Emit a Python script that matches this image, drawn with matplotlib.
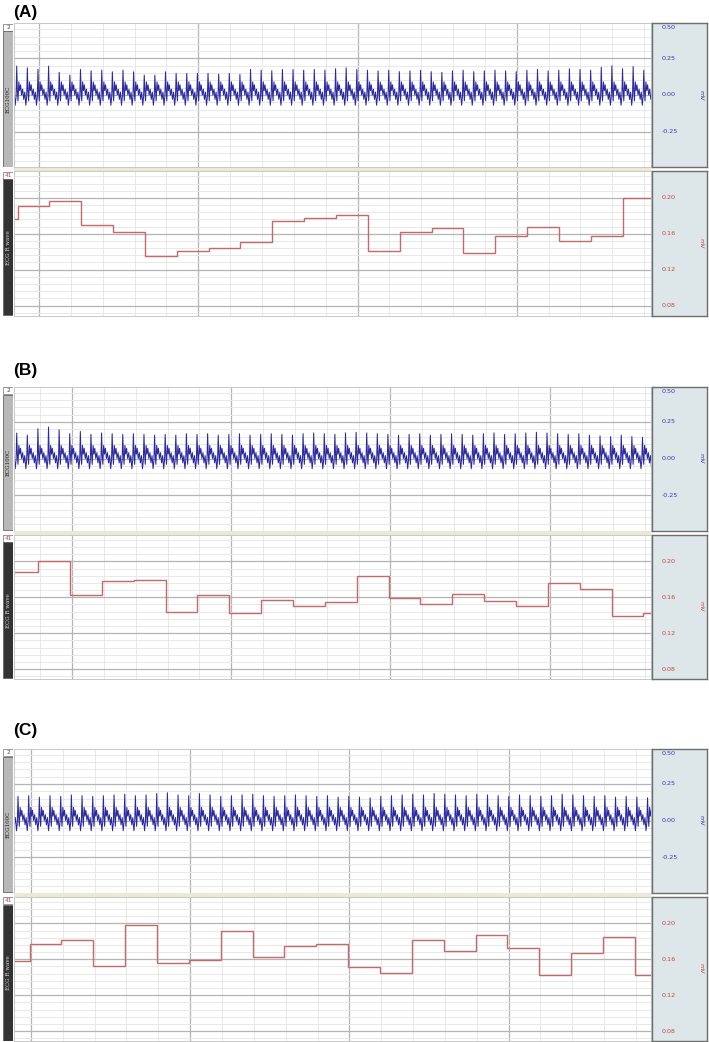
import numpy as np
import matplotlib
matplotlib.use('Agg')
import matplotlib.pyplot as plt
from matplotlib.patches import Rectangle

W, H = 709, 1042

# ---------------- data ----------------
panel_labels = ['(A)', '(B)', '(C)']
ecg_channel_label = 'ECG100C'
rwave_channel_label = 'ECG R wave'
ecg_channel_no = '2'
rwave_channel_no = '41'
ecg_ticks = [0.50, 0.25, 0.00, -0.25]
ecg_tick_labels = ['0.50', '0.25', '0.00', '-0.25']
rwave_ticks = [0.20, 0.16, 0.12, 0.08]
rwave_tick_labels = ['0.20', '0.16', '0.12', '0.08']
unit_label = 'mV'

# R-wave amplitude (mV) per analysis window (stairs)
rwave_a = [0.177, 0.191, 0.197, 0.170, 0.162, 0.135, 0.141, 0.144, 0.151, 0.174, 0.178,
           0.181, 0.141, 0.162, 0.167, 0.139, 0.158, 0.168, 0.152, 0.157, 0.200]
rwave_b = [0.188, 0.201, 0.162, 0.178, 0.179, 0.144, 0.162, 0.143, 0.157, 0.150, 0.155,
           0.184, 0.159, 0.152, 0.164, 0.156, 0.150, 0.176, 0.169, 0.139, 0.142]
rwave_c = [0.158, 0.177, 0.182, 0.152, 0.198, 0.156, 0.159, 0.191, 0.162, 0.175, 0.177,
           0.151, 0.145, 0.181, 0.169, 0.187, 0.173, 0.143, 0.167, 0.185, 0.142]
rwave_first_edge = [0.11, 0.76, 0.49]   # time of first window boundary
window_len = 1.0

# ECG: R-peak amplitude (mV) of each beat
ecg_r_a = [0.198, 0.186, 0.175, 0.198, 0.155, 0.136, 0.175, 0.166, 0.170, 0.159, 0.170, 0.159,
           0.136, 0.136, 0.159, 0.148, 0.148, 0.148, 0.148, 0.143, 0.148, 0.141, 0.175, 0.170,
           0.166, 0.175, 0.175, 0.170, 0.175, 0.170, 0.180, 0.186, 0.175, 0.170, 0.165, 0.170,
           0.160, 0.165, 0.170, 0.160, 0.155, 0.165, 0.170, 0.160, 0.165, 0.170, 0.165, 0.160,
           0.170, 0.175, 0.165, 0.170, 0.180, 0.175, 0.170, 0.190, 0.200, 0.180, 0.195, 0.170]
ecg_r_b = [0.174, 0.160, 0.204, 0.215, 0.197, 0.170, 0.185, 0.165, 0.175, 0.170, 0.165, 0.170,
           0.165, 0.160, 0.165, 0.160, 0.170, 0.165, 0.170, 0.160, 0.165, 0.170, 0.160, 0.165,
           0.170, 0.165, 0.160, 0.170, 0.175, 0.170, 0.165, 0.175, 0.180, 0.175, 0.170, 0.165,
           0.160, 0.165, 0.170, 0.160, 0.165, 0.170, 0.165, 0.160, 0.170, 0.175, 0.165, 0.170,
           0.175, 0.180, 0.175, 0.170, 0.165, 0.170, 0.160, 0.155, 0.150, 0.160, 0.150, 0.145]
ecg_r_c = [0.165, 0.170, 0.160, 0.170, 0.165, 0.175, 0.170, 0.165, 0.170, 0.175, 0.180, 0.170,
           0.175, 0.185, 0.190, 0.175, 0.170, 0.185, 0.175, 0.165, 0.170, 0.175, 0.180, 0.170,
           0.165, 0.170, 0.175, 0.170, 0.165, 0.170, 0.160, 0.165, 0.160, 0.155, 0.165, 0.170,
           0.175, 0.180, 0.175, 0.185, 0.180, 0.175, 0.170, 0.180, 0.175, 0.170, 0.165, 0.175,
           0.170, 0.165, 0.170, 0.180, 0.175, 0.170, 0.165, 0.170, 0.160, 0.165, 0.160, 0.155]
ecg_first_peak = [0.085, 0.085, 0.126]
ecg_rr = [0.3337, 0.333, 0.335]
# beat waveform between R peaks: (phase within beat, mV)
beat_phase = [0.06, 0.12, 0.20, 0.28, 0.36, 0.46, 0.56, 0.66, 0.76, 0.86, 0.94]
beat_level = [0.03, -0.04, 0.09, 0.03, 0.07, 0.00, 0.04, -0.03, 0.02, -0.07, -0.01]

grid_offset = [0.785, 1.82, 0.53]   # first major vertical grid line

# layout (pixel rows)
panel_top = [23, 386.5, 748.5]
title_y = [13, 370, 730]

# ---------------- style ----------------
ECG_COLOR = '#2a2aa0'
RW_COLOR = '#c46a6a'
BLUE_TXT = '#3a3aa8'
RED_TXT = '#c24848'
MAJOR = '#b4b4b4'
MINOR = '#e8e8e8'
SIDE_BG = '#dde6e9'

fig = plt.figure(figsize=(W / 100, H / 100), dpi=100)
fig.patch.set_facecolor('white')


def add_ax(x0, y0, x1, y1):
    return fig.add_axes([x0 / W, 1 - y1 / H, (x1 - x0) / W, (y1 - y0) / H])


def style_grid(ax, off, ymaj, ymin):
    ax.set_xlim(0, 20)
    ax.set_xticks(np.arange(off, 20, 5))
    ax.set_xticks(np.arange(off % 1, 20, 1), minor=True)
    ax.set_yticks(ymaj)
    ax.set_yticks(ymin, minor=True)
    ax.grid(which='minor', color=MINOR, lw=0.7)
    ax.grid(which='major', color=MAJOR, lw=0.9)
    ax.tick_params(which='both', length=0, labelbottom=False, labelleft=False)
    ax.set_axisbelow(True)
    for s in ax.spines.values():
        s.set_color('#c8c8c8')
        s.set_linewidth(0.7)


def ecg_trace(amps, first, rr):
    xs, ys = [], []
    n = len(amps)
    for k in range(-1, n):
        t0 = first + k * rr
        xs.append(t0)
        ys.append(amps[max(k, 0)])
        for ph, lv in zip(beat_phase, beat_level):
            xs.append(t0 + ph * rr)
            ys.append(lv)
    return np.array(xs), np.array(ys)


def strip(x0, y0, x1, y1, no, label, bg, fg, nocol):
    ax = add_ax(x0, y0, x1, y1)
    ax.set_xlim(0, 1)
    ax.set_ylim(y1, y0)
    ax.axis('off')
    ax.add_patch(Rectangle((0.02, y0 + 0.5), 0.96, 7, facecolor='white',
                           edgecolor='#888888', lw=0.6))
    ax.text(0.5, y0 + 4.2, no, ha='center', va='center', fontsize=4.2,
            color=nocol, family='DejaVu Sans')
    ax.add_patch(Rectangle((0.02, y0 + 8), 0.96, (y1 - y0) - 8.5, facecolor=bg,
                           edgecolor='#666666', lw=0.6))
    ax.text(0.5, (y0 + 8 + y1) / 2, label, ha='center', va='center', rotation=90,
            fontsize=4.0, color=fg, family='DejaVu Serif')


def side(y0, y1, ylim, ticks, labels, col):
    ax = add_ax(652, y0, 707, y1)
    ax.set_facecolor(SIDE_BG)
    ax.set_xlim(0, 1)
    ax.set_ylim(*ylim)
    ax.set_xticks([])
    ax.set_yticks([])
    for s in ax.spines.values():
        s.set_color('#6e6e6e')
        s.set_linewidth(1.0)
    for t, lab in zip(ticks, labels):
        yy = t
        va = 'center'
        if t > ylim[1] - 0.02 * (ylim[1] - ylim[0]):
            va = 'top'
            yy = ylim[1] - 0.015 * (ylim[1] - ylim[0])
        ax.text(0.17, yy, lab, ha='left', va=va, fontsize=4.6, color=col,
                family='DejaVu Sans')
    ax.text(0.88, sum(ylim) / 2, unit_label, rotation=270, ha='center', va='center',
            fontsize=4.6, color=col, family='DejaVu Sans')


rwaves = [rwave_a, rwave_b, rwave_c]
ecgs = [ecg_r_a, ecg_r_b, ecg_r_c]
ECG_YLIM = (-0.493, 0.493)
RW_YLIM = (0.0689, 0.230)

for i in range(3):
    top = panel_top[i]
    t1, b1 = top, top + 144
    t2, b2 = top + 148, top + 292.5

    fig.text(13 / W, 1 - title_y[i] / H, panel_labels[i], fontsize=12.5, fontweight='bold',
             family='Liberation Sans', ha='left', va='center')

    # ECG panel
    ax1 = add_ax(14, t1, 651, b1)
    style_grid(ax1, grid_offset[i], np.arange(-0.5, 0.51, 0.25), np.arange(-0.45, 0.5, 0.05))
    ax1.set_ylim(*ECG_YLIM)
    xs, ys = ecg_trace(ecgs[i], ecg_first_peak[i], ecg_rr[i])
    ax1.plot(xs, ys, color=ECG_COLOR, lw=0.75, solid_joinstyle='round')

    # separator
    fig.patches.append(Rectangle((14 / W, 1 - (t2) / H), 637 / W, 3.2 / H,
                                 transform=fig.transFigure, facecolor='#ebe9d6',
                                 edgecolor='none'))

    # R wave panel
    ax2 = add_ax(14, t2, 651, b2)
    style_grid(ax2, grid_offset[i], np.arange(0.04, 0.24, 0.04), np.arange(0.064, 0.232, 0.008))
    ax2.set_ylim(*RW_YLIM)
    edges = [0.0] + [rwave_first_edge[i] + window_len * k for k in range(len(rwaves[i]) - 1)] + [20.0]
    ax2.stairs(rwaves[i], edges, color=RW_COLOR, lw=1.0, baseline=None)

    strip(3, t1, 13.5, b1, ecg_channel_no, ecg_channel_label, '#b8b8b8', '#222222', '#444444')
    strip(3, t2, 13.5, b2, rwave_channel_no, rwave_channel_label, '#333333', '#d8d8d8', RED_TXT)

    side(t1, b1, ECG_YLIM, ecg_ticks, ecg_tick_labels, BLUE_TXT)
    side(t2, b2, RW_YLIM, rwave_ticks, rwave_tick_labels, RED_TXT)

fig.savefig('out.png', dpi=100, facecolor='white')
